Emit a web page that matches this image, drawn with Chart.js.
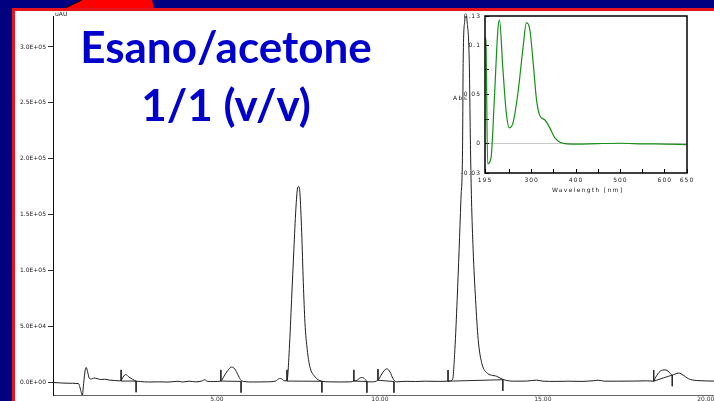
<!DOCTYPE html>
<html lang="it">
<head>
<meta charset="UTF-8">
<title>Esano/acetone 1/1 (v/v)</title>
<script src="https://cdn.jsdelivr.net/npm/chart.js"></script>
<style>
  html, body { margin: 0; padding: 0; }
  body { width: 714px; height: 401px; position: relative; overflow: hidden; background: #000080; }
  .paper { position: absolute; left: 15px; top: 10px; right: 0; bottom: 0; background: #fff; }
  .red-top { position: absolute; left: 12px; top: 8px; width: 702px; height: 2.5px; background: #e8141c; }
  .red-left { position: absolute; left: 12px; top: 8px; width: 3px; height: 393px; background: #e8141c; }
  .wedge { position: absolute; left: 60px; top: 0; }
  canvas { position: absolute; }
  #main { left: 0; top: 0; }
  #uv { left: 440px; top: 8px; }
  .title { position: absolute; left: 0; width: 452px; text-align: center; font-family: Lato, sans-serif;
           font-weight: bold; font-size: 44px; line-height: 42px; color: #0000cc; white-space: nowrap; }
  .small { position: absolute; font-family: "DejaVu Sans", sans-serif; font-size: 6px; line-height: 7px; color: #222; white-space: nowrap; }
</style>
</head>
<body>
  <div class="paper"></div>
  <svg class="wedge" width="100" height="9">
    <polygon points="4,8.5 22,0 92,0 94,8.5" fill="#f00"/>
    <line x1="4" y1="8.5" x2="22" y2="0" stroke="#000" stroke-width="1"/>
  </svg>
  <div class="red-top"></div>
  <div class="red-left"></div>

  <canvas id="main" width="714" height="401"></canvas>
  <canvas id="uv" width="274" height="192"></canvas>

  <div class="small" style="left:55px; top:10px;">uAU</div>
  <div class="small" style="left:453px; top:94px; letter-spacing:1.4px;">Abs</div>
  <div class="small" style="left:552px; top:186px; width:66px; text-align:center; letter-spacing:1.3px;">Wavelength [nm]</div>

  <div class="title" style="top:25px;">Esano/acetone</div>
  <div class="title" style="top:83px;">1/1 (v/v)</div>

<script>
// chromatogram (retention time in min, signal in uAU)
const retentionTime = [
  0, 0.40, 0.75, 0.83, 0.87, 0.91, 0.96, 0.99, 1.03, 1.08,
  1.14, 1.22, 1.32, 1.42, 1.55, 1.70, 1.85, 2.00, 2.06, 2.14,
  2.20, 2.30, 2.42, 2.52, 2.65, 2.90, 3.20, 3.50, 3.80, 3.95,
  4.15, 4.35, 4.55, 4.62, 4.70, 4.90, 5.12, 5.22, 5.33, 5.45,
  5.55, 5.64, 5.72, 5.82, 6.10, 6.50, 6.80, 6.92, 6.98, 7.06,
  7.15, 7.22, 7.29, 7.36, 7.42, 7.475, 7.505, 7.545, 7.60, 7.65,
  7.70, 7.77, 7.85, 8.00, 8.21, 8.45, 8.80, 9.10, 9.20, 9.30,
  9.40, 9.47, 9.55, 9.62, 9.75, 9.94, 10.04, 10.13, 10.22, 10.31,
  10.40, 10.50, 10.80, 11.10, 11.40, 11.80, 12.09, 12.23, 12.30, 12.37,
  12.43, 12.485, 12.535, 12.555, 12.605, 12.64, 12.67, 12.74, 12.78, 12.81,
  12.86, 12.935, 13.015, 13.12, 13.27, 13.58, 13.78, 14.09, 14.50, 14.80,
  15.00, 15.40, 15.80, 16.20, 16.55, 16.70, 16.90, 17.30, 17.80, 18.20,
  18.40, 18.45, 18.60, 18.75, 18.87, 18.97, 19.06, 19.17, 19.30, 19.47,
  19.72, 20.25
];
const signal = [
  0, -600, -900, -8000, -11600, -900, 11600, 13400, 9800, 4000,
  3100, 4000, 3600, 2700, 2900, 2200, 1800, 1500, 2000, 5800,
  7100, 4900, 2700, 1300, 900, 450, 600, 400, 1100, 450,
  1200, 600, 1500, 2500, 1100, 900, 1300, 5800, 10700, 13800,
  12100, 7100, 2700, 900, 450, 600, 1300, 3600, 3400, 1500,
  1600, 29500, 74100, 118800, 154500, 174100, 175300, 169700, 134000, 89300,
  53600, 29500, 14300, 5400, 1200, 600, 450, 600, 1300, 2000,
  4300, 4500, 2700, 600, 600, 2200, 6700, 10700, 12200, 9400,
  3600, 600, 1100, 900, 1200, 1000, 1200, 2700, 29500, 74100,
  118800, 163400, 208100, 288400, 324200, 332000, 324200, 288400, 208100, 163400,
  118800, 74100, 38400, 17900, 8900, 5600, 2700, 1200, 1300, 2100,
  1200, 1000, 1200, 1000, 1600, 2000, 1200, 1200, 1300, 1500,
  1200, 4200, 10100, 11300, 9400, 6700, 7600, 8500, 6700, 3300,
  1800, 1300
];

// integration events
const peakStart  = [2.06, 5.12, 7.15, 9.20, 9.94, 12.09, 18.40];
const peakEnd    = [2.52, 5.74, 8.22, 9.60, 10.43, 13.77, 18.97];
const startLevel = [1300, 1300, 1300, 1300, 2000, 1200, 1200];
const endLevel   = [1300, 1000, 1100, 900, 900, 2500, 6700];

const yTickValues = [0, 50000, 100000, 150000, 200000, 250000, 300000];
const yTickLabels = ['0.0E+00', '5.0E+04', '1.0E+05', '1.5E+05', '2.0E+05', '2.5E+05', '3.0E+05'];
const xTickValues = [5, 10, 15, 20];
const xTickLabels = ['5.00', '10.00', '15.00', '20.00'];

// UV spectrum of the main peak
const wavelength = [195, 197, 201, 208.6, 216, 224, 227.6, 235, 243, 250,
                    258, 269, 281, 288, 296, 303, 311, 318, 330, 341,
                    352.5, 364, 375, 400, 450, 500, 550, 600, 650];
const absorbance = [0.108, 0.105, -0.0206, -0.0145, 0.0447, 0.116, 0.126, 0.078, 0.031, 0.016,
                    0.021, 0.051, 0.099, 0.123, 0.116, 0.085, 0.045, 0.029, 0.024, 0.016,
                    0.0058, 0.0014, 0.0, -0.0005, 0, 0.0003, -0.0003, -0.0005, -0.001];
const absTickValues = [-0.03, 0, 0.025, 0.05, 0.075, 0.1, 0.13];
const absTickLabels = ['-0.03', '0', '', '0.05', '', '0.1', '0.13'];
const wlTickValues = [195, 250, 300, 350, 400, 450, 500, 550, 600, 650];
const wlTickLabels = ['195', '', '300', '', '400', '', '500', '', '600', '650'];

const MARK = 10000;

const trace = retentionTime.map((t, i) => ({x: t, y: signal[i]}));
const marks = [];
peakStart.forEach((s, i) => {
  const e = peakEnd[i];
  marks.push({x: s, y: startLevel[i] + MARK}, {x: s, y: startLevel[i]},
             {x: e, y: endLevel[i]}, {x: e, y: endLevel[i] - MARK}, {x: e, y: null});
});

const tinyFont = {family: 'DejaVu Sans', size: 6};

new Chart(document.getElementById('main'), {
  type: 'line',
  data: {
    datasets: [
      {data: trace, borderColor: '#1e1e1e', borderWidth: 1, pointRadius: 0, cubicInterpolationMode: 'monotone'},
      {data: marks, borderColor: '#2a2a2a', borderWidth: 1, pointRadius: 0, spanGaps: false}
    ]
  },
  options: {
    responsive: false,
    animation: false,
    devicePixelRatio: 1,
    layout: {padding: {top: 16, left: 0, right: 0, bottom: 0}},
    plugins: {legend: {display: false}, tooltip: {enabled: false}},
    scales: {
      x: {
        type: 'linear', min: -0.03, max: 20.25,
        afterBuildTicks: s => { s.ticks = xTickValues.map(v => ({value: v})); },
        afterFit: s => { s.height = 6; s.paddingLeft = 0; s.paddingRight = 0; },
        grid: {drawOnChartArea: false, drawTicks: false},
        border: {color: '#666', width: 1},
        ticks: {autoSkip: false, maxRotation: 0, padding: 1, color: '#333', font: tinyFont,
                callback: (v, i) => xTickLabels[i]}
      },
      y: {
        min: -11160, max: 327700,
        afterBuildTicks: s => { s.ticks = yTickValues.map(v => ({value: v})); },
        afterFit: s => { s.width = 53; s.paddingTop = 0; s.paddingBottom = 0; },
        grid: {drawOnChartArea: false, tickLength: 5, color: '#333'},
        border: {color: '#111', width: 1},
        ticks: {autoSkip: false, padding: 2, color: '#222', font: tinyFont,
                callback: (v, i) => yTickLabels[i]}
      }
    }
  }
});

const boxPlugin = {
  id: 'box',
  beforeDraw(chart) { chart.ctx.letterSpacing = '1px'; },
  afterDraw(chart) {
    const {ctx, chartArea: a} = chart;
    ctx.save();
    ctx.strokeStyle = '#000';
    ctx.lineWidth = 1.5;
    ctx.strokeRect(a.left, a.top, a.right - a.left, a.bottom - a.top);
    ctx.restore();
  }
};

new Chart(document.getElementById('uv'), {
  type: 'line',
  data: {
    datasets: [{
      data: wavelength.map((w, i) => ({x: w, y: absorbance[i]})),
      borderColor: '#159015', borderWidth: 1.2, pointRadius: 0, cubicInterpolationMode: 'monotone'
    }]
  },
  plugins: [boxPlugin],
  options: {
    responsive: false,
    animation: false,
    devicePixelRatio: 1,
    layout: {padding: {top: 8, right: 27, left: 0, bottom: 0}},
    plugins: {legend: {display: false}, tooltip: {enabled: false}},
    scales: {
      x: {
        type: 'linear', min: 195, max: 650,
        afterBuildTicks: s => { s.ticks = wlTickValues.map(v => ({value: v})); },
        afterFit: s => { s.height = 27; s.paddingLeft = 0; s.paddingRight = 0; },
        grid: {drawOnChartArea: false, tickLength: -4, tickColor: '#000'},
        border: {display: false},
        ticks: {autoSkip: false, maxRotation: 0, padding: 8, color: '#222', font: tinyFont,
                callback: (v, i) => wlTickLabels[i]}
      },
      y: {
        min: -0.03, max: 0.13,
        afterBuildTicks: s => { s.ticks = absTickValues.map(v => ({value: v})); },
        afterFit: s => { s.width = 45; s.paddingTop = 0; s.paddingBottom = 0; },
        grid: {tickLength: -4, tickColor: '#000',
               color: c => (c.tick && c.tick.value === 0) ? '#c8c8c8' : 'rgba(0,0,0,0)'},
        border: {display: false},
        ticks: {autoSkip: false, padding: 8, color: '#222', font: tinyFont,
                callback: (v, i) => absTickLabels[i]}
      }
    }
  }
});
</script>
</body>
</html>
